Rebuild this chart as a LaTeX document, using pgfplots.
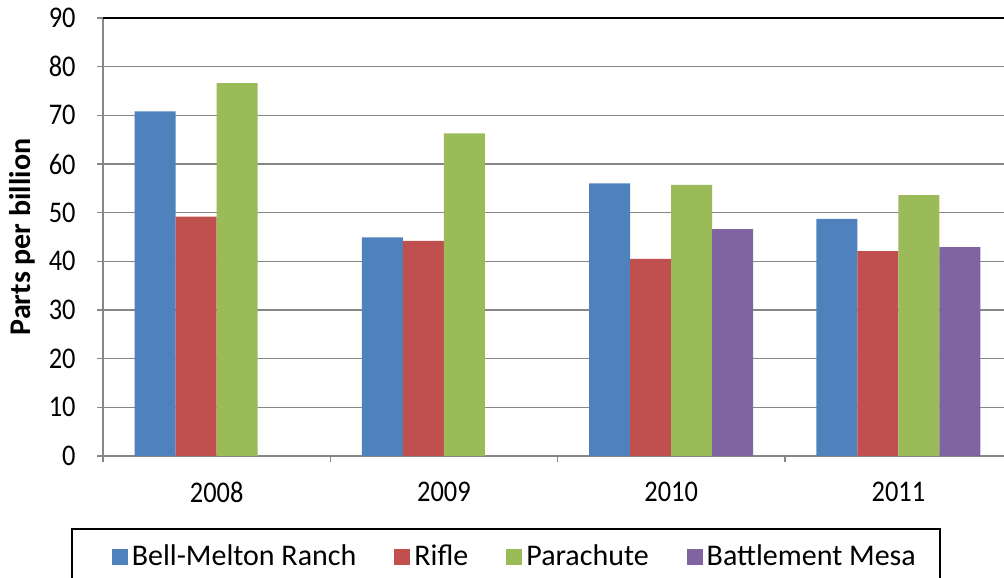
\documentclass[border=0pt]{standalone}
\usepackage{pgfplots}
\pgfplotsset{compat=1.18}
\usepackage{fontspec}
\setmainfont{Carlito}[FakeStretch=0.88]
\newfontfamily\plainfont{Carlito}
\definecolor{cblue}{HTML}{4F81BD}
\definecolor{cred}{HTML}{C0504D}
\definecolor{cgreen}{HTML}{9BBB59}
\definecolor{cpurple}{HTML}{8064A2}
\definecolor{gridc}{HTML}{868686}
\pgfplotsset{sq/.style={legend image code/.code={\path[draw=none,fill=none] (-10pt,-1pt) rectangle (0pt,1pt);\fill[##1,draw=none] (0pt,-4pt) rectangle (8pt,4pt);}}}
\begin{document}
\begin{tikzpicture}
\useasboundingbox (0pt,0pt) rectangle (502pt,288.5pt);
\clip (0pt,0pt) rectangle (502pt,288.5pt);
\begin{axis}[
  at={(51.5pt,60.5pt)}, anchor=south west,
  scale only axis, width=454.5pt, height=219pt,
  ybar=0pt, bar width=20.5pt,
  xmin=-0.5, xmax=3.5, ymin=0, ymax=90,
  xtick={0,1,2,3}, xticklabels={2008,2009,2010,2011},
  minor xtick={-0.5,0.5,1.5,2.5,3.5},
  major x tick style={draw=none},
  ytick={0,10,...,90},
  /pgf/number format/assume math mode=true,
  tick align=outside,
  axis lines*=left,
  major tick length=3pt, minor tick length=3pt,
  tick style={gridc, line width=0.75pt},
  ymajorgrids, major grid style={gridc, line width=0.75pt},
  axis line style={gridc, line width=0.75pt},
  tick label style={font=\fontsize{15}{18}\selectfont, black},
  yticklabel style={anchor=east, inner sep=0pt, xshift=-10.5pt},
  xticklabel style={anchor=north, inner sep=0pt, yshift=-10pt},
  ylabel={\plainfont\bfseries Parts per billion},
  ylabel style={at={(axis description cs:-0.0891,0.5)}, anchor=center, font=\fontsize{15}{18}\selectfont},
  legend columns=4,
  legend cell align=left,
  legend style={at={(-0.0352,-0.165)}, anchor=north west, draw=black, line width=0.75pt,
    inner xsep=10pt, inner ysep=6pt, font=\fontsize{15}{18}\selectfont\plainfont,
    nodes={inner xsep=2pt, inner ysep=2pt},
    /tikz/every even column/.append style={column sep=7pt}},
]
\addplot[fill=cblue, draw=none, sq] coordinates {(0,70.8) (1,44.9) (2,56.0) (3,48.7)};
\addplot[fill=cred, draw=none, sq] coordinates {(0,49.2) (1,44.2) (2,40.5) (3,42.1)};
\addplot[fill=cgreen, draw=none, sq] coordinates {(0,76.6) (1,66.3) (2,55.7) (3,53.6)};
\addplot[fill=cpurple, draw=none, sq] coordinates {(2,46.6) (3,42.9)};
\legend{Bell-Melton Ranch, Rifle, Parachute, Battlement Mesa}
\draw[black, line width=0.75pt] (rel axis cs:0,1) -- (rel axis cs:1,1);
\end{axis}
\end{tikzpicture}
\end{document}
